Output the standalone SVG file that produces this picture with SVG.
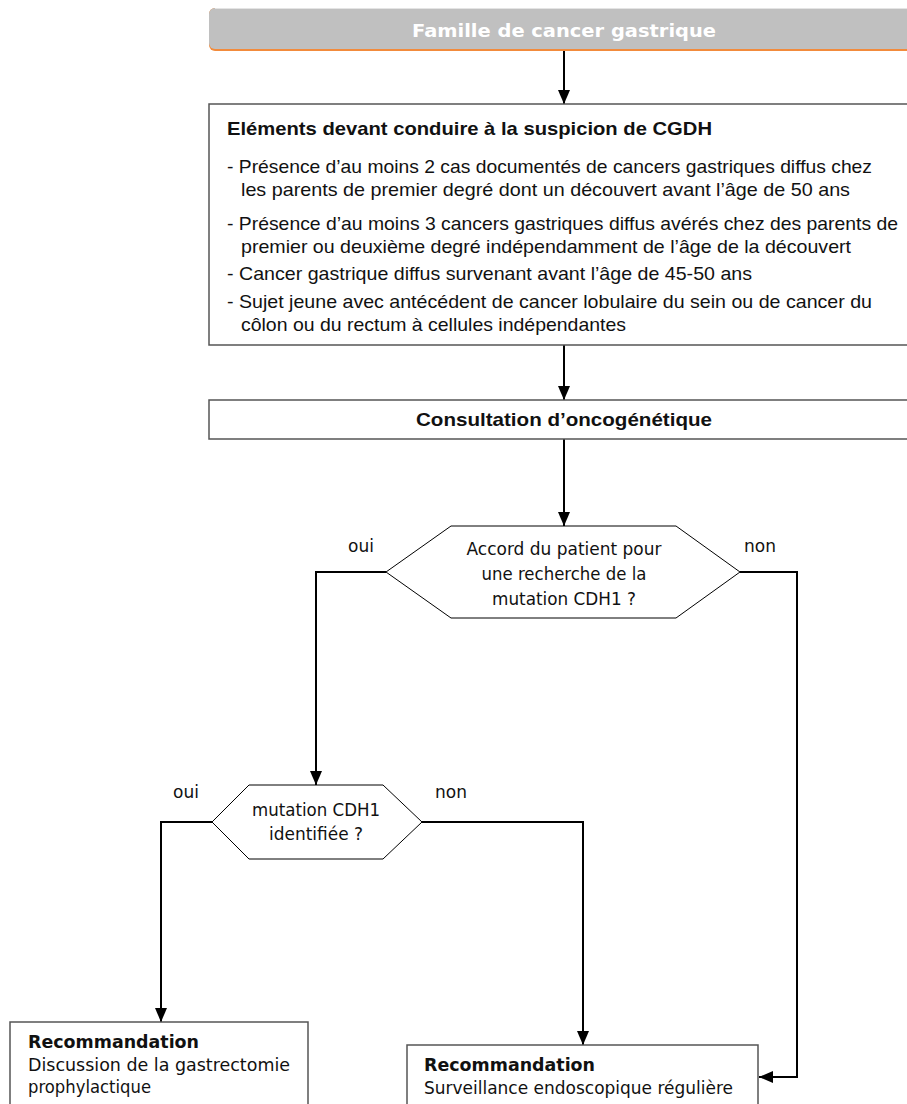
<svg xmlns="http://www.w3.org/2000/svg" width="907" height="1104" viewBox="0 0 907 1104">
<defs>
<marker id="ah" markerUnits="userSpaceOnUse" markerWidth="14" markerHeight="12" refX="14" refY="6" orient="auto">
<path d="M0,0 L14,6 L0,12 z" fill="#000"/>
</marker>
</defs>
<style>
.box{fill:#fff;stroke:#555;stroke-width:1.5}
.hex{fill:#fff;stroke:#000;stroke-width:1}
.conn{fill:none;stroke:#000;stroke-width:2}
.fr{font-family:"Liberation Sans",Arial,sans-serif;font-size:18.5px;fill:#111}
.frb{font-family:"Liberation Sans",Arial,sans-serif;font-size:18.5px;font-weight:bold;fill:#111}
.ta{font-family:"DejaVu Sans",Verdana,sans-serif;font-size:17px;fill:#111}
.tab{font-family:"DejaVu Sans",Verdana,sans-serif;font-size:17px;font-weight:bold;fill:#111}
</style>
<rect width="907" height="1104" fill="#fff"/>
<g id="connectors">
<path class="conn" d="M564,50 V104" marker-end="url(#ah)"/>
<path class="conn" d="M564,345 V400" marker-end="url(#ah)"/>
<path class="conn" d="M564,439 V526" marker-end="url(#ah)"/>
<path class="conn" d="M386,572 H316 V785" marker-end="url(#ah)"/>
<path class="conn" d="M740,572 H797 V1077 H759" marker-end="url(#ah)"/>
<path class="conn" d="M212,822 H161 V1022" marker-end="url(#ah)"/>
<path class="conn" d="M422,822 H583 V1045" marker-end="url(#ah)"/>
</g>
<g id="header">
<rect x="209" y="8" width="720" height="43" rx="6" fill="#f28b3c"/>
<rect x="209" y="8" width="720" height="41" rx="6" fill="#c0c0c0"/>
<line x1="215" y1="8.5" x2="907" y2="8.5" stroke="#e4e4e4" stroke-width="1"/>
<text x="564" y="37" text-anchor="middle" textLength="304" lengthAdjust="spacingAndGlyphs" style="font-family:'DejaVu Sans',Verdana,sans-serif;font-size:17px;font-weight:bold;fill:#fff">Famille de cancer gastrique</text>
</g>
<g id="criteria">
<rect class="box" x="209" y="104" width="720" height="241"/>
<text class="frb" x="227" y="135" textLength="485" lengthAdjust="spacingAndGlyphs">Eléments devant conduire à la suspicion de CGDH</text>
<text class="fr" x="227" y="173" textLength="645" lengthAdjust="spacingAndGlyphs">- Présence d’au moins 2 cas documentés de cancers gastriques diffus chez</text>
<text class="fr" x="241" y="196" textLength="609" lengthAdjust="spacingAndGlyphs">les parents de premier degré dont un découvert avant l’âge de 50 ans</text>
<text class="fr" x="227" y="230" textLength="671" lengthAdjust="spacingAndGlyphs">- Présence d’au moins 3 cancers gastriques diffus avérés chez des parents de</text>
<text class="fr" x="241" y="253" textLength="610" lengthAdjust="spacingAndGlyphs">premier ou deuxième degré indépendamment de l’âge de la découvert</text>
<text class="fr" x="227" y="280" textLength="525" lengthAdjust="spacingAndGlyphs">- Cancer gastrique diffus survenant avant l’âge de 45-50 ans</text>
<text class="fr" x="227" y="308" textLength="645" lengthAdjust="spacingAndGlyphs">- Sujet jeune avec antécédent de cancer lobulaire du sein ou de cancer du</text>
<text class="fr" x="241" y="331" textLength="385" lengthAdjust="spacingAndGlyphs">côlon ou du rectum à cellules indépendantes</text>
</g>
<g id="consultation">
<rect class="box" x="209" y="400" width="720" height="39"/>
<text class="frb" x="564" y="426" text-anchor="middle" textLength="296" lengthAdjust="spacingAndGlyphs">Consultation d’oncogénétique</text>
</g>
<g id="decision1">
<polygon class="hex" points="386,572 451,526 676,526 740,572 676,618 451,618"/>
<text class="ta" x="564" y="555" text-anchor="middle" textLength="195" lengthAdjust="spacingAndGlyphs">Accord du patient pour</text>
<text class="ta" x="564" y="580" text-anchor="middle" textLength="165" lengthAdjust="spacingAndGlyphs">une recherche de la</text>
<text class="ta" x="564" y="605" text-anchor="middle" textLength="144" lengthAdjust="spacingAndGlyphs">mutation CDH1 ?</text>
</g>
<g id="labels1">
<text class="ta" x="348" y="552">oui</text>
<text class="ta" x="744" y="552">non</text>
</g>
<g id="decision2">
<polygon class="hex" points="212,822 249,785 383,785 422,822 383,859 249,859"/>
<text class="ta" x="316" y="816" text-anchor="middle" textLength="128" lengthAdjust="spacingAndGlyphs">mutation CDH1</text>
<text class="ta" x="316" y="840" text-anchor="middle" textLength="94" lengthAdjust="spacingAndGlyphs">identifiée ?</text>
</g>
<g id="labels2">
<text class="ta" x="173" y="798">oui</text>
<text class="ta" x="435" y="798">non</text>
</g>
<g id="reco1">
<rect class="box" x="10" y="1022" width="298" height="100"/>
<text class="tab" x="28" y="1048" textLength="171" lengthAdjust="spacingAndGlyphs">Recommandation</text>
<text class="ta" x="28" y="1071" textLength="262" lengthAdjust="spacingAndGlyphs">Discussion de la gastrectomie</text>
<text class="ta" x="28" y="1093" textLength="123" lengthAdjust="spacingAndGlyphs">prophylactique</text>
</g>
<g id="reco2">
<rect class="box" x="407" y="1045" width="351" height="80"/>
<text class="tab" x="424" y="1071" textLength="171" lengthAdjust="spacingAndGlyphs">Recommandation</text>
<text class="ta" x="424" y="1094" textLength="309" lengthAdjust="spacingAndGlyphs">Surveillance endoscopique régulière</text>
</g>
</svg>
